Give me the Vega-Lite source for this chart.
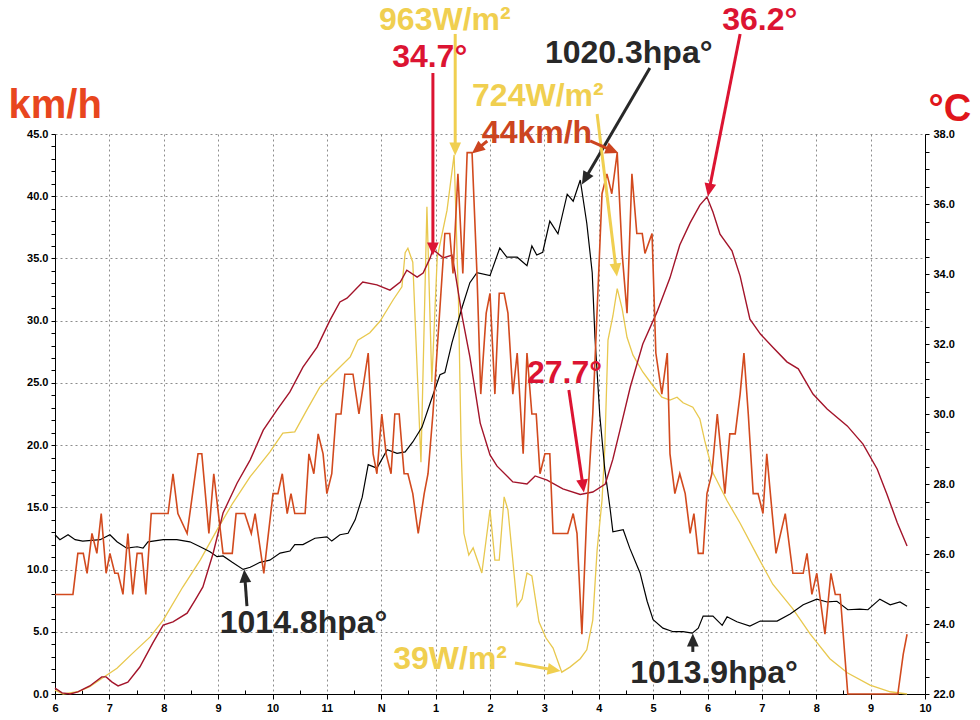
{
  "$schema": "https://vega.github.io/schema/vega-lite/v6.json",
  "description": "Wind, temperature, pressure and solar radiation over one day",
  "width": 870,
  "height": 560,
  "autosize": "none",
  "padding": {"left": 55, "top": 134, "right": 55, "bottom": 26},
  "background": "white",
  "config": {
    "view": {"stroke": null},
    "axis": {
      "labelFont": "Liberation Sans",
      "labelFontWeight": "bold",
      "labelFontSize": 11,
      "labelColor": "#000000",
      "domainColor": "#000000",
      "tickColor": "#000000",
      "gridColor": "#8c8c8c",
      "gridDash": [2, 3],
      "titleFont": "Liberation Sans",
      "labelOverlap": false,
      "labelFlush": false
    }
  },
  "datasets": {
    "wind": [
      {"t":6.00,"v":8.0},{"t":6.33,"v":8.0},{"t":6.42,"v":11.3},{"t":6.52,"v":11.3},{"t":6.59,"v":9.7},{"t":6.68,"v":12.9},{"t":6.77,"v":11.3},{"t":6.85,"v":14.5},{"t":6.94,"v":9.7},{"t":7.01,"v":11.3},{"t":7.10,"v":9.7},{"t":7.16,"v":9.7},{"t":7.25,"v":8.0},{"t":7.34,"v":12.9},{"t":7.43,"v":8.0},{"t":7.51,"v":11.3},{"t":7.60,"v":11.3},{"t":7.67,"v":8.0},{"t":7.77,"v":14.5},{"t":8.08,"v":14.5},{"t":8.17,"v":17.7},{"t":8.26,"v":14.5},{"t":8.43,"v":12.9},{"t":8.63,"v":19.3},{"t":8.70,"v":19.3},{"t":8.83,"v":12.9},{"t":8.92,"v":17.7},{"t":9.09,"v":11.3},{"t":9.26,"v":11.3},{"t":9.33,"v":14.5},{"t":9.49,"v":14.5},{"t":9.61,"v":12.9},{"t":9.68,"v":14.5},{"t":9.84,"v":9.7},{"t":10.01,"v":16.1},{"t":10.10,"v":16.1},{"t":10.18,"v":17.7},{"t":10.27,"v":14.5},{"t":10.34,"v":16.1},{"t":10.41,"v":14.5},{"t":10.60,"v":14.5},{"t":10.67,"v":19.3},{"t":10.76,"v":17.7},{"t":10.84,"v":20.9},{"t":10.93,"v":19.3},{"t":11.00,"v":16.1},{"t":11.09,"v":17.7},{"t":11.17,"v":22.5},{"t":11.26,"v":22.5},{"t":11.33,"v":25.7},{"t":11.48,"v":25.7},{"t":11.59,"v":22.5},{"t":11.76,"v":27.4},{"t":11.85,"v":19.3},{"t":11.92,"v":17.7},{"t":12.01,"v":22.5},{"t":12.09,"v":19.3},{"t":12.18,"v":17.7},{"t":12.25,"v":22.5},{"t":12.33,"v":22.5},{"t":12.42,"v":17.7},{"t":12.49,"v":17.7},{"t":12.58,"v":16.1},{"t":12.68,"v":12.9},{"t":12.79,"v":16.1},{"t":12.86,"v":17.7},{"t":12.95,"v":22.5},{"t":13.17,"v":37.0},{"t":13.26,"v":37.0},{"t":13.32,"v":33.8},{"t":13.41,"v":41.8},{"t":13.50,"v":33.8},{"t":13.58,"v":43.5},{"t":13.67,"v":43.5},{"t":13.76,"v":33.8},{"t":13.83,"v":24.1},{"t":13.93,"v":30.6},{"t":14.00,"v":32.2},{"t":14.09,"v":24.1},{"t":14.17,"v":32.2},{"t":14.26,"v":32.2},{"t":14.33,"v":30.6},{"t":14.42,"v":24.1},{"t":14.50,"v":27.4},{"t":14.61,"v":19.3},{"t":14.68,"v":27.4},{"t":14.77,"v":22.5},{"t":14.85,"v":22.5},{"t":14.92,"v":17.7},{"t":15.01,"v":19.3},{"t":15.10,"v":19.3},{"t":15.16,"v":12.9},{"t":15.43,"v":12.9},{"t":15.53,"v":14.5},{"t":15.60,"v":12.9},{"t":15.69,"v":4.8},{"t":15.78,"v":14.5},{"t":15.89,"v":22.5},{"t":16.06,"v":40.2},{"t":16.15,"v":41.8},{"t":16.24,"v":40.2},{"t":16.34,"v":43.5},{"t":16.43,"v":35.4},{"t":16.52,"v":30.6},{"t":16.61,"v":41.8},{"t":16.70,"v":37.0},{"t":16.80,"v":37.0},{"t":16.85,"v":35.4},{"t":16.98,"v":37.0},{"t":17.05,"v":27.4},{"t":17.16,"v":24.1},{"t":17.26,"v":27.4},{"t":17.31,"v":19.3},{"t":17.40,"v":16.1},{"t":17.49,"v":17.7},{"t":17.59,"v":16.1},{"t":17.68,"v":12.9},{"t":17.75,"v":14.5},{"t":17.83,"v":11.3},{"t":17.92,"v":11.3},{"t":17.99,"v":16.1},{"t":18.08,"v":17.7},{"t":18.18,"v":22.5},{"t":18.32,"v":16.1},{"t":18.41,"v":20.9},{"t":18.51,"v":20.9},{"t":18.60,"v":24.1},{"t":18.67,"v":27.4},{"t":18.75,"v":22.5},{"t":18.84,"v":16.1},{"t":18.93,"v":16.1},{"t":19.02,"v":14.5},{"t":19.09,"v":19.3},{"t":19.19,"v":14.5},{"t":19.26,"v":11.3},{"t":19.43,"v":14.5},{"t":19.57,"v":9.7},{"t":19.76,"v":9.7},{"t":19.83,"v":11.3},{"t":19.92,"v":8.0},{"t":20.01,"v":9.7},{"t":20.16,"v":4.8},{"t":20.27,"v":9.7},{"t":20.35,"v":8.0},{"t":20.44,"v":8.0},{"t":20.58,"v":0},{"t":21.50,"v":0},{"t":21.60,"v":3.2},{"t":21.67,"v":4.8}
    ],
    "temp": [
      {"t":6.00,"v":22.17},{"t":6.13,"v":22.03},{"t":6.28,"v":22.00},{"t":6.42,"v":22.06},{"t":6.64,"v":22.23},{"t":6.86,"v":22.49},{"t":6.94,"v":22.49},{"t":7.05,"v":22.34},{"t":7.16,"v":22.23},{"t":7.34,"v":22.34},{"t":7.56,"v":22.77},{"t":7.80,"v":23.46},{"t":7.99,"v":23.97},{"t":8.17,"v":24.06},{"t":8.43,"v":24.31},{"t":8.58,"v":24.69},{"t":8.72,"v":25.06},{"t":8.91,"v":26.03},{"t":9.09,"v":27.17},{"t":9.35,"v":28.03},{"t":9.59,"v":28.69},{"t":9.83,"v":29.54},{"t":10.08,"v":30.11},{"t":10.32,"v":30.63},{"t":10.56,"v":31.34},{"t":10.82,"v":31.91},{"t":11.06,"v":32.69},{"t":11.24,"v":33.20},{"t":11.37,"v":33.31},{"t":11.66,"v":33.77},{"t":11.92,"v":33.69},{"t":12.16,"v":33.54},{"t":12.35,"v":33.77},{"t":12.47,"v":34.11},{"t":12.66,"v":33.91},{"t":12.77,"v":34.03},{"t":12.90,"v":34.46},{"t":12.95,"v":34.70},{"t":13.14,"v":34.46},{"t":13.30,"v":34.54},{"t":13.36,"v":34.03},{"t":13.49,"v":32.77},{"t":13.63,"v":31.63},{"t":13.82,"v":29.74},{"t":14.00,"v":28.83},{"t":14.13,"v":28.51},{"t":14.42,"v":28.06},{"t":14.68,"v":28.00},{"t":14.83,"v":28.23},{"t":15.05,"v":28.11},{"t":15.34,"v":27.86},{"t":15.66,"v":27.70},{"t":15.89,"v":27.77},{"t":16.12,"v":28.00},{"t":16.26,"v":28.71},{"t":16.39,"v":29.54},{"t":16.58,"v":30.77},{"t":16.81,"v":32.00},{"t":17.07,"v":32.91},{"t":17.31,"v":33.89},{"t":17.49,"v":34.83},{"t":17.68,"v":35.46},{"t":17.86,"v":35.97},{"t":17.99,"v":36.20},{"t":18.10,"v":35.77},{"t":18.23,"v":35.14},{"t":18.45,"v":34.66},{"t":18.60,"v":33.94},{"t":18.78,"v":32.71},{"t":18.97,"v":32.29},{"t":19.21,"v":31.89},{"t":19.46,"v":31.49},{"t":19.67,"v":31.29},{"t":19.94,"v":30.57},{"t":20.20,"v":30.14},{"t":20.57,"v":29.66},{"t":20.86,"v":29.14},{"t":21.12,"v":28.43},{"t":21.30,"v":27.71},{"t":21.49,"v":26.89},{"t":21.67,"v":26.23}
    ],
    "pres": [
      {"t":6.00,"v":1015.29},{"t":6.09,"v":1015.22},{"t":6.24,"v":1015.29},{"t":6.37,"v":1015.22},{"t":6.51,"v":1015.20},{"t":6.83,"v":1015.22},{"t":7.01,"v":1015.29},{"t":7.14,"v":1015.19},{"t":7.32,"v":1015.10},{"t":7.51,"v":1015.12},{"t":7.62,"v":1015.10},{"t":7.71,"v":1015.19},{"t":7.99,"v":1015.22},{"t":8.24,"v":1015.22},{"t":8.48,"v":1015.19},{"t":8.67,"v":1015.12},{"t":8.85,"v":1015.05},{"t":8.98,"v":1014.98},{"t":9.09,"v":1014.99},{"t":9.26,"v":1014.90},{"t":9.46,"v":1014.80},{"t":9.59,"v":1014.83},{"t":9.77,"v":1014.90},{"t":9.95,"v":1014.93},{"t":10.14,"v":1015.03},{"t":10.32,"v":1015.06},{"t":10.41,"v":1015.15},{"t":10.56,"v":1015.15},{"t":10.78,"v":1015.24},{"t":11.00,"v":1015.26},{"t":11.09,"v":1015.20},{"t":11.24,"v":1015.29},{"t":11.39,"v":1015.31},{"t":11.52,"v":1015.50},{"t":11.65,"v":1015.82},{"t":11.76,"v":1016.28},{"t":11.92,"v":1016.23},{"t":12.11,"v":1016.49},{"t":12.29,"v":1016.44},{"t":12.44,"v":1016.46},{"t":12.58,"v":1016.60},{"t":12.75,"v":1016.81},{"t":12.90,"v":1017.15},{"t":13.08,"v":1017.55},{"t":13.17,"v":1017.58},{"t":13.30,"v":1018.00},{"t":13.49,"v":1018.51},{"t":13.63,"v":1018.85},{"t":13.76,"v":1018.99},{"t":14.00,"v":1018.95},{"t":14.18,"v":1019.34},{"t":14.31,"v":1019.21},{"t":14.50,"v":1019.21},{"t":14.68,"v":1019.09},{"t":14.77,"v":1019.37},{"t":14.86,"v":1019.24},{"t":14.97,"v":1019.28},{"t":15.10,"v":1019.72},{"t":15.25,"v":1019.54},{"t":15.42,"v":1020.10},{"t":15.53,"v":1020.00},{"t":15.66,"v":1020.30},{"t":15.78,"v":1019.69},{"t":15.88,"v":1018.99},{"t":15.93,"v":1018.08},{"t":16.02,"v":1016.97},{"t":16.11,"v":1016.22},{"t":16.21,"v":1015.65},{"t":16.26,"v":1015.33},{"t":16.45,"v":1015.36},{"t":16.57,"v":1015.10},{"t":16.76,"v":1014.75},{"t":16.89,"v":1014.35},{"t":17.00,"v":1014.09},{"t":17.18,"v":1013.97},{"t":17.37,"v":1013.92},{"t":17.55,"v":1013.92},{"t":17.72,"v":1013.90},{"t":17.83,"v":1013.97},{"t":17.92,"v":1014.14},{"t":18.10,"v":1014.14},{"t":18.27,"v":1014.01},{"t":18.36,"v":1014.13},{"t":18.54,"v":1014.06},{"t":18.78,"v":1014.00},{"t":18.97,"v":1014.07},{"t":19.28,"v":1014.07},{"t":19.52,"v":1014.17},{"t":19.76,"v":1014.30},{"t":20.01,"v":1014.38},{"t":20.20,"v":1014.34},{"t":20.38,"v":1014.35},{"t":20.58,"v":1014.23},{"t":20.80,"v":1014.24},{"t":20.95,"v":1014.23},{"t":21.17,"v":1014.38},{"t":21.36,"v":1014.30},{"t":21.54,"v":1014.34},{"t":21.67,"v":1014.28}
    ],
    "solar": [
      {"t":6.00,"v":7},{"t":6.15,"v":0},{"t":6.42,"v":4},{"t":6.64,"v":13},{"t":6.88,"v":29},{"t":7.14,"v":46},{"t":7.43,"v":73},{"t":7.75,"v":102},{"t":7.99,"v":132},{"t":8.35,"v":191},{"t":8.67,"v":239},{"t":8.98,"v":293},{"t":9.27,"v":341},{"t":9.59,"v":388},{"t":9.95,"v":432},{"t":10.19,"v":466},{"t":10.41,"v":468},{"t":10.63,"v":507},{"t":10.87,"v":548},{"t":11.19,"v":579},{"t":11.43,"v":602},{"t":11.57,"v":632},{"t":11.79,"v":645},{"t":11.98,"v":666},{"t":12.22,"v":704},{"t":12.38,"v":727},{"t":12.44,"v":788},{"t":12.49,"v":796},{"t":12.58,"v":771},{"t":12.73,"v":414},{"t":12.84,"v":870},{"t":12.93,"v":557},{"t":13.03,"v":780},{"t":13.21,"v":864},{"t":13.34,"v":963},{"t":13.42,"v":704},{"t":13.47,"v":436},{"t":13.52,"v":287},{"t":13.61,"v":248},{"t":13.69,"v":261},{"t":13.85,"v":216},{"t":14.00,"v":329},{"t":14.09,"v":239},{"t":14.17,"v":239},{"t":14.26,"v":352},{"t":14.33,"v":329},{"t":14.50,"v":157},{"t":14.59,"v":170},{"t":14.68,"v":216},{"t":14.77,"v":211},{"t":14.90,"v":129},{"t":15.03,"v":100},{"t":15.16,"v":82},{"t":15.32,"v":39},{"t":15.47,"v":48},{"t":15.66,"v":63},{"t":15.78,"v":79},{"t":15.89,"v":132},{"t":15.97,"v":257},{"t":16.06,"v":346},{"t":16.11,"v":436},{"t":16.17,"v":632},{"t":16.26,"v":675},{"t":16.34,"v":724},{"t":16.43,"v":688},{"t":16.52,"v":637},{"t":16.63,"v":605},{"t":16.81,"v":575},{"t":17.00,"v":550},{"t":17.16,"v":530},{"t":17.31,"v":525},{"t":17.44,"v":530},{"t":17.55,"v":520},{"t":17.73,"v":512},{"t":17.86,"v":491},{"t":17.95,"v":452},{"t":18.10,"v":395},{"t":18.36,"v":345},{"t":18.60,"v":305},{"t":18.91,"v":248},{"t":19.20,"v":196},{"t":19.57,"v":152},{"t":19.89,"v":107},{"t":20.25,"v":63},{"t":20.57,"v":38},{"t":20.99,"v":16},{"t":21.36,"v":4},{"t":21.67,"v":0}
    ],
    "notes": [
      {"t":11.96,"v":53.36,"s":"solar","label":"963W/m²"},
      {"t":12.20,"v":50.39,"s":"temp","label":"34.7°"},
      {"t":15.01,"v":50.71,"s":"pres","label":"1020.3hpa°"},
      {"t":18.27,"v":53.36,"s":"temp","label":"36.2°"},
      {"t":13.67,"v":47.25,"s":"solar","label":"724W/m²"},
      {"t":13.85,"v":44.28,"s":"wind","label":"44km/h"},
      {"t":14.68,"v":24.99,"s":"temp","label":"27.7°"},
      {"t":9.03,"v":4.90,"s":"pres","label":"1014.8hpa°"},
      {"t":12.22,"v":2.01,"s":"solar","label":"39W/m²"},
      {"t":16.58,"v":0.88,"s":"pres","label":"1013.9hpa°"}
    ],
    "arrows": [
      {"t":12.95,"v":35.76,"t0":12.95,"v0":49.90,"a":180,"s":"temp"},
      {"t":13.36,"v":43.80,"t0":13.36,"v0":53.04,"a":180,"s":"solar"},
      {"t":15.75,"v":41.40,"t0":16.94,"v0":50.31,"a":210,"s":"pres"},
      {"t":18.03,"v":40.49,"t0":18.60,"v0":53.04,"a":191,"s":"temp"},
      {"t":16.32,"v":34.07,"t0":15.97,"v0":46.61,"a":173,"s":"solar"},
      {"t":13.76,"v":43.77,"t0":13.95,"v0":44.44,"a":231,"s":"wind"},
      {"t":16.25,"v":43.67,"t0":15.84,"v0":44.44,"a":113,"s":"wind"},
      {"t":15.71,"v":16.71,"t0":15.45,"v0":24.43,"a":172,"s":"temp"},
      {"t":9.49,"v":9.48,"t0":9.53,"v0":7.07,"a":355,"s":"pres"},
      {"t":15.18,"v":1.93,"t0":14.46,"v0":2.49,"a":100,"s":"solar"},
      {"t":17.73,"v":4.34,"t0":17.73,"v0":3.38,"a":0,"s":"pres"}
    ]
  },
  "encoding": {
    "x": {
      "field": "t",
      "type": "quantitative",
      "scale": {"domain": [6, 22], "nice": false, "zero": false},
      "axis": {
        "title": null,
        "values": [6,6.5,7,7.5,8,8.5,9,9.5,10,10.5,11,11.5,12,12.5,13,13.5,14,14.5,15,15.5,16,16.5,17,17.5,18,18.5,19,19.5,20,20.5,21,21.5,22],
        "labelExpr": "datum.value % 1 === 0 ? (datum.value === 12 ? 'N' : (datum.value > 12 ? '' + (datum.value - 12) : '' + datum.value)) : ''",
        "grid": true,
        "gridOpacity": {"condition": {"test": "datum.value % 1 === 0", "value": 1}, "value": 0},
        "tickSize": {"condition": {"test": "datum.value % 1 === 0", "value": 5}, "value": -4},
        "labelPadding": 3
      }
    }
  },
  "layer": [
    {
      "data": {"name": "solar"},
      "mark": {"type": "line", "color": "#E8C84E", "strokeWidth": 1.3},
      "encoding": {
        "y": {"field": "v", "type": "quantitative", "scale": {"domain": [0, 1000], "nice": false}, "axis": null}
      }
    },
    {
      "data": {"name": "pres"},
      "mark": {"type": "line", "color": "#000000", "strokeWidth": 1.2},
      "encoding": {
        "y": {"field": "v", "type": "quantitative", "scale": {"domain": [1013.04, 1020.95], "nice": false, "zero": false}, "axis": null}
      }
    },
    {
      "data": {"name": "temp"},
      "mark": {"type": "line", "color": "#A3142A", "strokeWidth": 1.4},
      "encoding": {
        "y": {
          "field": "v",
          "type": "quantitative",
          "scale": {"domain": [22, 38], "nice": false, "zero": false},
          "axis": {
            "orient": "right",
            "title": "°C",
            "values": [22,22.5,23,23.5,24,24.5,25,25.5,26,26.5,27,27.5,28,28.5,29,29.5,30,30.5,31,31.5,32,32.5,33,33.5,34,34.5,35,35.5,36,36.5,37,37.5,38],
            "labelExpr": "datum.value % 2 === 0 ? format(datum.value, '.1f') : ''",
            "grid": false,
            "tickSize": 4,
            "labelPadding": 4,
            "titleAngle": 0,
            "titleAlign": "left",
            "titleBaseline": "alphabetic",
            "titleX": 3,
            "titleY": -14,
            "titleFontSize": 38,
            "titleFontWeight": "bold",
            "titleColor": "#E0161B"
          }
        }
      }
    },
    {
      "data": {"name": "wind"},
      "mark": {"type": "line", "color": "#D24A1E", "strokeWidth": 1.6},
      "encoding": {
        "y": {
          "field": "v",
          "type": "quantitative",
          "scale": {"domain": [0, 45], "nice": false},
          "axis": {
            "orient": "left",
            "title": "km/h",
            "values": [0,1,2,3,4,5,6,7,8,9,10,11,12,13,14,15,16,17,18,19,20,21,22,23,24,25,26,27,28,29,30,31,32,33,34,35,36,37,38,39,40,41,42,43,44,45],
            "labelExpr": "datum.value % 5 === 0 ? format(datum.value, '.1f') : ''",
            "grid": true,
            "gridOpacity": {"condition": {"test": "datum.value % 5 === 0", "value": 1}, "value": 0},
            "tickSize": 4,
            "labelPadding": 3,
            "titleAngle": 0,
            "titleAlign": "left",
            "titleBaseline": "alphabetic",
            "titleX": -47,
            "titleY": -17,
            "titleFontSize": 40,
            "titleFontWeight": "bold",
            "titleColor": "#E8461E"
          }
        }
      }
    },
    {
      "data": {"name": "arrows"},
      "mark": {"type": "rule", "strokeWidth": 3},
      "encoding": {
        "y": {"field": "v", "type": "quantitative", "scale": {"domain": [0, 45], "nice": false}, "axis": null},
        "x2": {"field": "t0"},
        "y2": {"field": "v0"},
        "color": {"field": "s", "type": "nominal", "scale": {"domain": ["solar", "temp", "pres", "wind"], "range": ["#F0CF50", "#DC1432", "#282828", "#CC4420"]}, "legend": null}
      }
    },
    {
      "data": {"name": "arrows"},
      "mark": {"type": "point", "shape": "M0,-1L-0.9,1L0.9,1Z", "filled": true, "size": 170, "opacity": 1},
      "encoding": {
        "y": {"field": "v", "type": "quantitative", "scale": {"domain": [0, 45], "nice": false}, "axis": null},
        "angle": {"field": "a", "type": "quantitative", "scale": null},
        "color": {"field": "s", "type": "nominal", "legend": null}
      }
    },
    {
      "data": {"name": "notes"},
      "mark": {"type": "text", "font": "Liberation Sans", "fontWeight": "bold", "fontSize": 32, "align": "left", "baseline": "alphabetic"},
      "encoding": {
        "y": {"field": "v", "type": "quantitative", "scale": {"domain": [0, 45], "nice": false}, "axis": null},
        "text": {"field": "label"},
        "color": {"field": "s", "type": "nominal", "legend": null}
      }
    }
  ],
  "resolve": {"scale": {"y": "independent"}}
}
